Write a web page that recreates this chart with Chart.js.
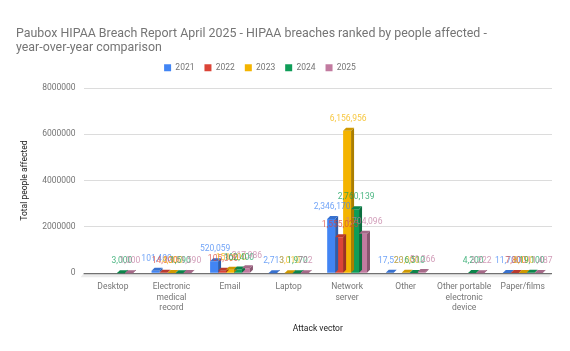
<!DOCTYPE html>
<html>
<head>
<meta charset="utf-8">
<script src="https://cdn.jsdelivr.net/npm/chart.js@4/dist/chart.umd.min.js"></script>
<style>
  html, body { margin: 0; padding: 0; background: #fff; }
  #wrap { width: 570px; height: 351px; }
</style>
</head>
<body>
<div id="wrap"><canvas id="chart"></canvas></div>
<script>
const categories = [
  'Desktop',
  ['Electronic', 'medical', 'record'],
  'Email',
  'Laptop',
  ['Network', 'server'],
  'Other',
  ['Other portable', 'electronic', 'device'],
  'Paper/films'
];
const years = ['2021', '2022', '2023', '2024', '2025'];
const values2021 = [null, 101400, 520059, 2713, 2346170, 17520, null, 11700];
const values2022 = [null, 14300, 105300, null, 1555025, null, null, 7800];
const values2023 = [null, 4300, 151600, 3010, 6156956, 23000, null, 8190];
const values2024 = [3000, 1590, 162400, 1970, 2760139, 6510, 4200, 19100];
const values2025 = [1000, 11590, 217986, 722, 1704096, 51266, 3222, 11487];
const colors = ['#4285f4', '#db4437', '#f4b400', '#0f9d58', '#c27ba0'];
const yTicks = [0, 2000000, 4000000, 6000000, 8000000];

function shade(hex, f) {
  const n = parseInt(hex.slice(1), 16);
  const r = Math.round(((n >> 16) & 255) * f);
  const g = Math.round(((n >> 8) & 255) * f);
  const b = Math.round((n & 255) * f);
  return `rgb(${r},${g},${b})`;
}

const depth = 3;

// floor + side faces for the 3D look
const bars3d = {
  id: 'bars3d',
  afterLayout(chart) {
    // legend sits a bit left of centre and higher in the original
    chart.legend.left -= 24;
    chart.legend.right -= 24;
    chart.legend.top -= 6;
  },
  beforeDatasetsDraw(chart) {
    const { ctx, chartArea } = chart;
    const y0 = chart.scales.y.getPixelForValue(0);
    ctx.save();
    ctx.fillStyle = '#ececec';
    ctx.beginPath();
    ctx.moveTo(chartArea.left, y0);
    ctx.lineTo(chartArea.right, y0);
    ctx.lineTo(chartArea.right - depth, y0 + depth + 1);
    ctx.lineTo(chartArea.left - depth, y0 + depth + 1);
    ctx.closePath();
    ctx.fill();
    ctx.strokeStyle = '#555';
    ctx.lineWidth = 1;
    ctx.beginPath();
    ctx.moveTo(chartArea.left, y0 + 0.5);
    ctx.lineTo(chartArea.right, y0 + 0.5);
    ctx.stroke();
    ctx.restore();
  },
  afterDatasetsDraw(chart) {
    const { ctx } = chart;
    ctx.save();
    chart.data.datasets.forEach((ds, i) => {
      const meta = chart.getDatasetMeta(i);
      meta.data.forEach((bar, j) => {
        if (ds.data[j] == null) return;
        const left = bar.x - bar.width / 2;
        const right = bar.x + bar.width / 2;
        const top = bar.y;
        const bottom = bar.base;
        ctx.fillStyle = shade(colors[i], 0.7);
        ctx.beginPath();
        ctx.moveTo(right, top);
        ctx.lineTo(right + depth, top - depth);
        ctx.lineTo(right + depth, bottom - depth);
        ctx.lineTo(right, bottom);
        ctx.closePath();
        ctx.fill();
        ctx.fillStyle = shade(colors[i], 0.85);
        ctx.beginPath();
        ctx.moveTo(left, top);
        ctx.lineTo(left + depth, top - depth);
        ctx.lineTo(right + depth, top - depth);
        ctx.lineTo(right, top);
        ctx.closePath();
        ctx.fill();
      });
    });
    ctx.restore();
  }
};

// value labels above each bar
const valueLabels = {
  id: 'valueLabels',
  afterDraw(chart) {
    const { ctx } = chart;
    ctx.save();
    ctx.font = '8.5px Roboto';
    ctx.textAlign = 'center';
    ctx.textBaseline = 'middle';
    ctx.globalAlpha = 0.75;
    chart.data.datasets.forEach((ds, i) => {
      const meta = chart.getDatasetMeta(i);
      meta.data.forEach((bar, j) => {
        const v = ds.data[j];
        if (v == null) return;
        ctx.fillStyle = colors[i];
        ctx.fillText(v.toLocaleString('en-US'), bar.x + 1, bar.y - 12);
      });
    });
    ctx.restore();
  }
};

const seriesValues = [values2021, values2022, values2023, values2024, values2025];

new Chart(document.getElementById('chart'), {
  type: 'bar',
  data: {
    labels: categories,
    datasets: years.map((y, i) => ({
      label: y,
      data: seriesValues[i],
      backgroundColor: colors[i],
      borderWidth: 0,
      categoryPercentage: 0.68,
      barPercentage: 1
    }))
  },
  options: {
    responsive: true,
    maintainAspectRatio: false,
    animation: false,
    layout: { padding: { left: 16, right: 18, top: 27, bottom: 13 } },
    plugins: {
      title: {
        display: true,
        text: ['Paubox HIPAA Breach Report April 2025 - HIPAA breaches ranked by people affected -', 'year-over-year comparison'],
        align: 'start',
        color: '#757575',
        font: { family: 'Roboto', size: 12.4, weight: 'normal', lineHeight: 1.15 },
        padding: { top: 0, bottom: 4 }
      },
      legend: {
        position: 'top',
        labels: {
          boxWidth: 7,
          boxHeight: 7,
          padding: 10,
          color: '#757575',
          font: { family: 'Roboto', size: 8.5 }
        }
      },
      tooltip: { enabled: false }
    },
    scales: {
      x: {
        grid: { display: false },
        border: { display: false },
        ticks: {
          color: '#757575',
          font: { family: 'Roboto', size: 8.5, lineHeight: 1.2 },
          maxRotation: 0,
          autoSkip: false,
          padding: 1
        },
        title: {
          display: true,
          text: 'Attack vector',
          color: '#222',
          font: { family: 'Roboto', size: 8.5 },
          padding: { top: 10 }
        }
      },
      y: {
        min: 0,
        max: 8000000,
        afterBuildTicks(axis) { axis.ticks = yTicks.map(v => ({ value: v })); },
        grid: { color: '#dcdcdc', drawTicks: false },
        border: { display: false },
        ticks: {
          color: '#757575',
          font: { family: 'Roboto', size: 8.5 },
          padding: 8,
          callback: v => String(v)
        },
        title: {
          display: true,
          text: 'Total people affected',
          color: '#222',
          font: { family: 'Roboto', size: 8.5 },
          padding: { bottom: 4 }
        }
      }
    }
  },
  plugins: [bars3d, valueLabels]
});
</script>
</body>
</html>
